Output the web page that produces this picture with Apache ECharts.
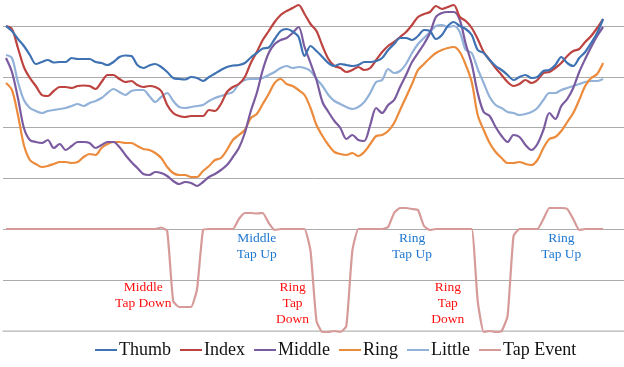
<!DOCTYPE html>
<html>
<head>
<meta charset="utf-8">
<script src="https://cdn.jsdelivr.net/npm/echarts@6/dist/echarts.min.js"></script>
<style>html,body{margin:0;padding:0;background:#fff;}#c{width:624px;height:367px;}</style>
</head>
<body>
<div id="c"></div>
<script>
// sample index categories (104 slots, data fills the first 101)
var categories = [];
for (var k = 0; k < 104; k++) categories.push(String(k));

var thumb = [305,300,292,285,276,267,269,271,268.5,269,269,273,272,272,272,269,268,266,269,274,275.5,275,266,263,265.5,267,264,259,253,252,251.5,254,253,250,254,257.5,261,264,265.5,266,268,273.5,278,282.5,283.5,292,300,302,299.5,294,275,285,280,274,268,265,267,266,265,266,269,269,270,273,281,287,293,293,291,295,301,300,292,296,305,309,305,302,296,281,278,271,265,261,256,251,254,256,253,254,260,261,266,274,268,265,273,279,288,298,312];
var index = [305,302,283,264,253,245,236,235,240,244,244,243,245,245.5,245,242,249,256,256,252,249,250,246,244,245,244,240,226,218,215,214,215,215,215,221,220,227,239,244,247,254,268,279,291,300,309,316,320,323,326,317,307,300,285,272,265,263,259,261,264,261,263,271,279,285,289,294,299,306,314,317,319,325,322,324,326,314,310,303,292,279,271,263,256,249,245,247,251,248,251,258,259,263,268,275,280,282,289,295,303,312];
var middle = [273,259,233,203,191,189,188,191,183,187,181,185,189,189,188,183,186,189,189,184,176,169,163,157,156,159,158,155,150,147,149,148,145,149,154,157,161,166,174,183,198,220,238,261,278,287,291,293,298,304,284,268,251,229,219,210,203,192,196,191,190,206,223,218,226,231,244,256,269,278,287,298,314,318,319,319,311,287,267,238,219,215,204,195,189,196,194,186,181,187,201,218,212,225,232,243,259,272,284,295,304];
var ring = [248,241,216,186,171,167,164,165,167,169,169,168,169,174,177,176,183,187,189,189,188,188,185,182,181,178,173,164,158,156,156,154,154,160,165,171,173,181,191,196,201,213,217,227,237,248,252,247,245,241,236,223,206,195,186,179,177,176,178,175,179,187,195,196,200,208,221,234,247,261,267,273,278,281,283,284,279,266,249,216,201,188,179,173,168,168,169,167,166,171,183,192,194,200,209,218,231,245,253,257,268];
var little = [276,273,249,231,223,220,218,220,221,222,223,225,227,225,228,230,233,238,242,239,236,240,241,241,235,229,234,238,230,224,223,224,225,226,230,233,235,237,239,247,251,252,252,253,256,259,263,265,263,264,263,260,252,245,236,230,227,224,222,224,229,238,249,251,262,258,260,267,278,287,293,299,305,306,304,305,299,281,278,262,248,234,226,223,219,218,216,217,219,223,231,238,238,241,243,245,247,249,250,250,252];
var tapEvent = [102,102,102,102,102,102,102,102,102,102,102,102,102,102,102,102,102,102,102,102,102,102,102,102,102,102,103.5,100,30,24,24,24,42,101,102,102,102,102,102,112,118,118,117.5,118,108,101,102,102,102,102,102,80,10,-1,-1,0,-1,5,80,102,102,102,102,102,104,118,123,123,122,121,105,101,102,102,102,102,102,102,102,30,-1,0,-1,0,15,95,102,102,102,102,112,123,123,123,122,112,101,102,102,102,102];

var seriesNames = ['Thumb','Index','Middle','Ring','Little','Tap Event'];
var seriesColors = ['#3F72B3','#BC4340','#7B5BA0','#EC8B3B','#93B2D9','#D69B99'];

// annotation texts: [label, category position, value, colour]
var notes = [
  ['Middle\nTap Down', 23.1, 35.5, '#FF1010'],
  ['Middle\nTap Up', 41.9, 85, '#1F78D0'],
  ['Ring\nTap\nDown', 47.9, 28, '#FF1010'],
  ['Ring\nTap Up', 67.5, 85, '#1F78D0'],
  ['Ring\nTap\nDown', 74.2, 28, '#FF1010'],
  ['Ring\nTap Up', 92.6, 85, '#1F78D0']
];

var dataSets = [thumb, index, middle, ring, little, tapEvent];
var series = dataSets.map(function (d, n) {
  return {
    name: seriesNames[n],
    type: 'line',
    data: d,
    smooth: n === 5 ? 0.15 : 0.3,
    symbol: 'none',
    clip: false,
    z: n === 5 ? 1 : 2 + (4 - n),
    lineStyle: { width: 2.2, color: seriesColors[n] },
    itemStyle: { color: seriesColors[n] }
  };
});

// annotations drawn as a label-only scatter series placed in data space
series.push({
  name: 'notes',
  type: 'scatter',
  symbol: 'circle',
  symbolSize: 0,
  silent: true,
  z: 10,
  itemStyle: { color: 'rgba(0,0,0,0)' },
  data: notes.map(function (t) {
    return {
      value: [t[1], t[2]],
      label: {
        show: true, formatter: t[0], color: t[3], opacity: 1,
        fontFamily: 'Liberation Serif', fontSize: 13.5, lineHeight: 16,
        align: 'center', verticalAlign: 'middle', position: 'inside'
      }
    };
  })
});

var chart = echarts.init(document.getElementById('c'), null, { renderer: 'canvas' });
chart.setOption({
  animation: false,
  backgroundColor: '#ffffff',
  grid: { left: 3, right: 0, top: 26, bottom: 36, containLabel: false },
  xAxis: {
    type: 'category', data: categories, boundaryGap: true,
    axisLine: { show: true, lineStyle: { color: '#cfcfcf', width: 1.5 } },
    axisTick: { show: false }, axisLabel: { show: false }, splitLine: { show: false }
  },
  yAxis: {
    type: 'value', min: 0, max: 305, interval: 305 / 6,
    axisLine: { show: false }, axisTick: { show: false }, axisLabel: { show: false },
    splitLine: { show: true, lineStyle: { color: '#ababab', width: 1 } }
  },
  legend: {
    bottom: 3, left: 90,
    data: seriesNames,
    icon: 'rect', itemWidth: 22, itemHeight: 2, itemGap: 9,
    textStyle: { fontFamily: 'Liberation Serif', fontSize: 18, color: '#111', padding: [0, 0, 0, -3] }
  },
  series: series
});
</script>
</body>
</html>
